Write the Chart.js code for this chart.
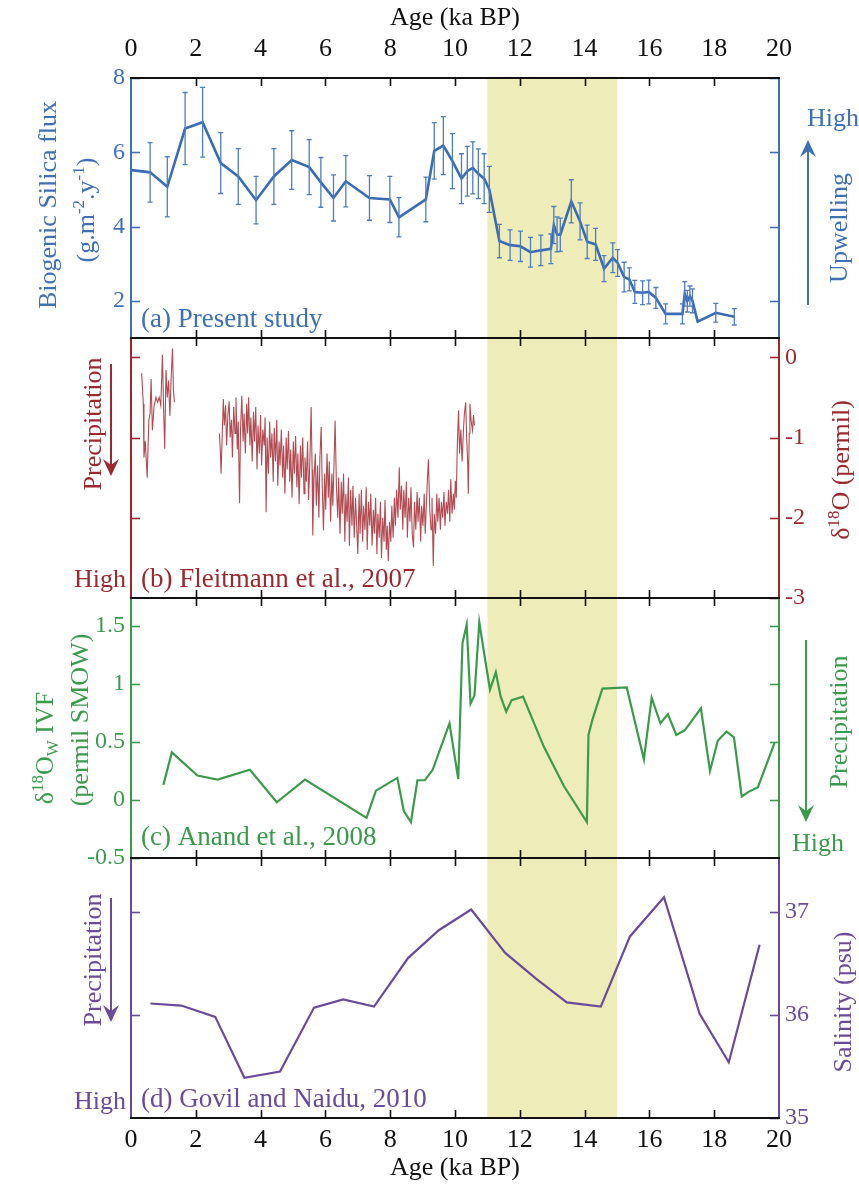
<!DOCTYPE html>
<html>
<head>
<meta charset="utf-8">
<script src="https://cdn.jsdelivr.net/npm/chart.js@4.4.0/dist/chart.umd.min.js"></script>
<style>
    html, body { margin: 0; padding: 0; background: #ffffff; }
    #wrap { position: relative; width: 859px; height: 1189px; overflow: hidden; }
    .panel { position: absolute; left: 0; width: 859px; }
</style>
</head>
<body>
<div id="wrap">
    <div class="panel" style="top:0px;height:352px"><canvas id="cA"></canvas></div>
    <div class="panel" style="top:324px;height:288px"><canvas id="cB"></canvas></div>
    <div class="panel" style="top:584px;height:288px"><canvas id="cC"></canvas></div>
    <div class="panel" style="top:844px;height:345px"><canvas id="cD"></canvas></div>
</div>
<script>
// === DADOS ===
const ageTicks = [0, 2, 4, 6, 8, 10, 12, 14, 16, 18, 20];
const bandStart = 11, bandEnd = 15;

// (a) Present study - biogenic silica flux
const silicaAge = [0.02, 0.59, 1.12, 1.67, 2.21, 2.77, 3.31, 3.86, 4.41, 4.96, 5.5, 5.86, 6.25, 6.63, 7.36, 7.99, 8.27, 9.1, 9.36, 9.64,
    9.92, 10.2, 10.38, 10.55, 10.72, 10.9, 11.06, 11.37, 11.7, 12.02, 12.33, 12.65, 12.96, 13.05, 13.15, 13.25, 13.59, 13.86, 14.08, 14.34,
    14.6, 14.87, 15.02, 15.22, 15.38, 15.55, 15.79, 15.98, 16.2, 16.5, 17.02, 17.09, 17.17, 17.25, 17.33, 17.49, 18.05, 18.62];
const silicaFlux = [5.52, 5.46, 5.07, 6.64, 6.81, 5.71, 5.35, 4.71, 5.35, 5.79, 5.6, 5.19, 4.77, 5.22, 4.77, 4.73, 4.25, 4.73, 6.04, 6.18,
    5.76, 5.29, 5.49, 5.58, 5.42, 5.29, 5.0, 3.61, 3.5, 3.47, 3.31, 3.36, 3.4, 4.04, 3.79, 3.78, 4.68, 4.14, 3.59, 3.52,
    2.87, 3.16, 3.02, 2.64, 2.58, 2.24, 2.22, 2.24, 2.08, 1.65, 1.65, 2.19, 1.99, 2.13, 2.0, 1.44, 1.68, 1.57];
const silicaErr = [0, 0.8, 0.81, 0.97, 0.94, 0.82, 0.75, 0.64, 0.75, 0.79, 0.74, 0.67, 0.62, 0.69, 0.6, 0.62, 0.53, 0.6, 0.76, 0.78,
    0.74, 0.67, 0.67, 0.7, 0.67, 0.67, 0.62, 0.45, 0.41, 0.41, 0.4, 0.41, 0.4, 0.5, 0.47, 0.45, 0.58, 0.5, 0.45, 0.43,
    0.35, 0.4, 0.36, 0.4, 0.31, 0.31, 0.32, 0.32, 0.28, 0.27, 0.27, 0.33, 0.29, 0.27, 0.32, 0, 0.25, 0.22];
const silicaTicks = [2, 4, 6, 8];

// (b) Fleitmann et al., 2007 - d18O (dois trechos)
const fleitAge1 = [0.33, 0.38, 0.40, 0.44, 0.50, 0.55, 0.59, 0.62, 0.66, 0.71, 0.77, 0.82, 0.87, 0.92, 0.97, 1.01, 1.04, 1.08, 1.12, 1.16,
    1.20, 1.24, 1.28, 1.31, 1.34];
const fleitD18O1 = [-0.20, -0.58, -1.25, -1.04, -1.50, -0.79, -0.70, -0.27, -0.91, -0.62, -0.50, -0.56, -0.50, -0.60, 0.03, -0.70, -1.14, -0.16, -0.50, -0.29,
    -0.73, -0.25, 0.11, -0.41, -0.56];
const fleitAge2 = [
    2.73, 2.76, 2.78, 2.81, 2.85, 2.88, 2.92, 2.95, 2.99, 3.03,
    3.06, 3.10, 3.13, 3.17, 3.21, 3.24, 3.28, 3.31, 3.35, 3.38,
    3.42, 3.46, 3.49, 3.53, 3.57, 3.60, 3.63, 3.67, 3.70, 3.74,
    3.78, 3.81, 3.85, 3.89, 3.92, 3.96, 4.00, 4.03, 4.07, 4.11,
    4.14, 4.17, 4.20, 4.24, 4.28, 4.31, 4.35, 4.39, 4.42, 4.46,
    4.50, 4.53, 4.57, 4.60, 4.64, 4.68, 4.71, 4.75, 4.79, 4.82,
    4.86, 4.90, 4.93, 4.97, 5.01, 5.04, 5.08, 5.12, 5.15, 5.19,
    5.23, 5.26, 5.30, 5.34, 5.37, 5.41, 5.45, 5.48, 5.52, 5.56,
    5.59, 5.61, 5.65, 5.69, 5.72, 5.76, 5.80, 5.83, 5.87, 5.90,
    5.94, 5.98, 6.01, 6.05, 6.09, 6.12, 6.16, 6.20, 6.23, 6.27,
    6.30, 6.34, 6.38, 6.41, 6.45, 6.49, 6.52, 6.56, 6.60, 6.63,
    6.67, 6.71, 6.74, 6.78, 6.82, 6.85, 6.89, 6.93, 6.96, 7.00,
    7.04, 7.07, 7.11, 7.15, 7.18, 7.22, 7.26, 7.29, 7.33, 7.37,
    7.40, 7.44, 7.48, 7.51, 7.55, 7.59, 7.62, 7.66, 7.70, 7.73,
    7.77, 7.81, 7.84, 7.88, 7.91, 7.94, 7.98, 8.02, 8.05, 8.09,
    8.13, 8.16, 8.20, 8.24, 8.28, 8.31, 8.35, 8.39, 8.42, 8.46,
    8.50, 8.53, 8.57, 8.61, 8.64, 8.68, 8.72, 8.75, 8.79, 8.83,
    8.86, 8.90, 8.94, 8.97, 9.01, 9.05, 9.08, 9.12, 9.15, 9.18,
    9.22, 9.26, 9.29, 9.33, 9.36, 9.40, 9.44, 9.47, 9.51, 9.55,
    9.58, 9.62, 9.66, 9.69, 9.73, 9.77, 9.80, 9.84, 9.87, 9.91,
    9.95, 9.98, 10.01, 10.04, 10.07, 10.11, 10.14, 10.18, 10.22, 10.26,
    10.29, 10.33, 10.36, 10.39, 10.41, 10.44, 10.46, 10.50, 10.54, 10.57,
    10.60];
const fleitD18O2 = [
    -0.95, -1.20, -1.45, -1.05, -0.52, -0.85, -0.60, -1.10, -0.72, -0.55,
    -1.00, -0.78, -1.25, -0.62, -0.95, -0.50, -1.15, -0.80, -1.82, -0.90,
    -0.48, -1.05, -0.70, -1.20, -0.58, -0.95, -0.50, -1.10, -0.75, -1.30,
    -0.68, -1.05, -0.62, -1.40, -0.85, -1.20, -0.72, -1.35, -0.90, -1.10,
    -0.75, -1.93, -1.00, -1.45, -0.80, -1.25, -0.95, -1.55, -0.88, -1.30,
    -0.78, -1.60, -1.05, -1.35, -0.90, -1.50, -1.10, -1.70, -1.00, -1.40,
    -0.92, -1.55, -1.15, -1.75, -1.05, -1.45, -0.98, -1.62, -1.20, -1.83,
    -1.10, -1.50, -1.00, -1.70, -1.25, -1.55, -1.05, -1.78, -1.30, -0.62,
    -1.40, -2.22, -1.50, -1.20, -1.85, -1.35, -2.00, -1.25, -0.87, -1.55,
    -2.16, -1.45, -1.90, -1.20, -1.75, -1.30, -2.05, -1.45, -1.85, -1.25,
    -0.79, -1.60, -2.00, -1.50, -2.20, -1.55, -1.95, -1.45, -2.30, -1.70,
    -2.05, -1.50, -2.35, -1.65, -2.10, -1.60, -2.25, -1.75, -2.05, -2.45,
    -1.70, -2.20, -1.65, -2.30, -1.85, -2.15, -1.62, -2.40, -1.80, -2.10,
    -1.70, -2.35, -1.90, -2.20, -1.75, -2.45, -1.95, -2.25, -1.80, -2.50,
    -2.00, -2.30, -1.78, -2.40, -2.10, -2.54, -2.05, -2.30, -1.85, -2.25,
    -1.75, -2.10, -1.65, -2.00, -1.37, -1.90, -1.60, -2.15, -1.65, -2.00,
    -1.55, -2.25, -1.75, -2.05, -1.62, -2.20, -2.37, -1.80, -2.15, -1.68,
    -2.05, -1.75, -2.30, -1.85, -2.10, -1.70, -2.20, -1.80, -1.50, -1.27,
    -1.90, -2.15, -1.75, -2.60, -1.95, -2.20, -1.70, -2.05, -1.75, -2.15,
    -1.80, -2.00, -1.68, -2.10, -1.80, -1.95, -1.65, -2.05, -1.52, -1.95,
    -1.70, -1.90, -1.54, -1.75, -1.10, -0.66, -1.20, -0.90, -1.30, -0.91,
    -0.70, -0.56, -1.00, -1.30, -1.70, -0.95, -0.58, -0.80, -0.91, -0.72,
    -0.85];
const fleitTicks = [-3, -2, -1, 0];

// (c) Anand et al., 2008 - d18Ow IVF
const anandAge = [1.0, 1.26, 2.05, 2.67, 3.67, 4.5, 5.37, 7.27, 7.56, 8.22, 8.42, 8.64, 8.84, 9.07, 9.31, 9.83, 10.1, 10.23, 10.36, 10.48,
    10.6, 10.75, 10.93, 11.08, 11.26, 11.41, 11.58, 11.75, 12.1, 12.74, 13.36, 14.07, 14.12, 14.24, 14.55, 15.3, 15.83, 16.07, 16.34, 16.57,
    16.83, 17.09, 17.59, 17.87, 18.11, 18.38, 18.61, 18.85, 19.06, 19.35, 19.86];
const anandD18Ow = [0.13, 0.41, 0.21, 0.175, 0.26, -0.02, 0.175, -0.155, 0.08, 0.19, -0.095, -0.19, 0.17, 0.17, 0.26, 0.66, 0.18, 1.35, 1.51, 0.83,
    0.9, 1.53, 1.21, 0.95, 1.1, 0.89, 0.76, 0.86, 0.89, 0.46, 0.12, -0.19, 0.56, 0.69, 0.96, 0.97, 0.35, 0.88, 0.66, 0.74,
    0.56, 0.6, 0.79, 0.25, 0.51, 0.59, 0.54, 0.03, 0.07, 0.11, 0.49];
const anandTicks = [-0.5, 0, 0.5, 1, 1.5];

// (d) Govil and Naidu, 2010 - salinidade
const govilAge = [0.6, 1.55, 2.6, 3.5, 4.6, 5.65, 6.55, 7.5, 8.55, 9.5, 10.5, 11.55, 12.5, 13.45, 14.5, 15.4, 16.45, 17.55, 18.45, 19.4];
const govilSalinity = [36.11, 36.09, 35.98, 35.39, 35.45, 36.07, 36.15, 36.08, 36.55, 36.82, 37.02, 36.6, 36.35, 36.12, 36.08, 36.76, 37.14, 36.01, 35.54, 36.68];
const salinityTicks = [35, 36, 37];

// === ESTILO ===
const SERIF = "'Liberation Serif', 'Times New Roman', serif";
const FS = 26;      // títulos e rótulos
const FS_TICK = 24; // números dos eixos y
const BLUE = '#3f70b4', RED_TXT = '#9a2a30', RED_LINE = '#b24c52', GREEN = '#3c9a4c', PURPLE = '#6a4b9a';
const BAND = '#eeecb8';

const toXY = (xs, ys) => xs.map((x, i) => ({ x: x, y: ys[i] }));

// textos e setas de cada painel (coordenadas da página)
const panels = {
    cA: {
        top: 0, color: BLUE, errors: true,
        texts: [
            { segs: [['Biogenic Silica flux']], x: 47, y: 205, rot: true },
            { segs: [['(g.m'], ['-2', 'sup'], ['.y'], ['-1', 'sup'], [')']], x: 85, y: 210, rot: true },
            { segs: [['(a) Present study']], x: 141, y: 318, left: true, size: 27 },
            { segs: [['High']], x: 833, y: 117 },
            { segs: [['Upwelling']], x: 838, y: 228, rot: true }
        ],
        arrows: [{ x: 808, tail: 305, head: 140 }]
    },
    cB: {
        top: 324, color: RED_TXT,
        texts: [
            { segs: [['δ'], ['18', 'sup'], ['O (permil)']], x: 840, y: 470, rot: true },
            { segs: [['Precipitation']], x: 92, y: 424, rot: true },
            { segs: [['High']], x: 100, y: 578 },
            { segs: [['(b) Fleitmann et al., 2007']], x: 141, y: 578, left: true, size: 27 }
        ],
        arrows: [{ x: 111, tail: 364, head: 476 }]
    },
    cC: {
        top: 584, color: GREEN,
        texts: [
            { segs: [['δ'], ['18', 'sup'], ['O'], ['W', 'sub'], [' IVF']], x: 44, y: 748, rot: true },
            { segs: [['(permil SMOW)']], x: 79, y: 720, rot: true },
            { segs: [['Precipitation']], x: 838, y: 722, rot: true },
            { segs: [['High']], x: 818, y: 842 },
            { segs: [['(c) Anand et al., 2008']], x: 141, y: 836, left: true, size: 27 }
        ],
        arrows: [{ x: 806, tail: 640, head: 822 }]
    },
    cD: {
        top: 844, color: PURPLE,
        texts: [
            { segs: [['Precipitation']], x: 92, y: 960, rot: true },
            { segs: [['High']], x: 100, y: 1100 },
            { segs: [['(d) Govil and Naidu, 2010']], x: 141, y: 1098, left: true, size: 27 },
            { segs: [['Salinity (psu)']], x: 842, y: 1002, rot: true }
        ],
        arrows: [{ x: 111, tail: 898, head: 1022 }]
    }
};

function segFont(s, size) {
    const small = s[1] === 'sup' || s[1] === 'sub';
    return (small ? Math.round(size * 0.66) : size) + 'px ' + SERIF;
}

function drawRich(ctx, t, color) {
    const size = t.size || FS;
    ctx.save();
    ctx.translate(t.x, t.y);
    if (t.rot) ctx.rotate(-Math.PI / 2);
    ctx.fillStyle = color;
    ctx.textAlign = 'left';
    ctx.textBaseline = 'alphabetic';
    let w = 0;
    t.segs.forEach(s => { ctx.font = segFont(s, size); w += ctx.measureText(s[0]).width; });
    let cx = t.left ? 0 : -w / 2;
    const base = size * 0.33;
    t.segs.forEach(s => {
        ctx.font = segFont(s, size);
        const dy = s[1] === 'sup' ? -size * 0.38 : (s[1] === 'sub' ? size * 0.22 : 0);
        ctx.fillText(s[0], cx, base + dy);
        cx += ctx.measureText(s[0]).width;
    });
    ctx.restore();
}

function drawArrow(ctx, a, color) {
    const dir = Math.sign(a.head - a.tail);
    ctx.save();
    ctx.strokeStyle = color;
    ctx.fillStyle = color;
    ctx.lineWidth = 2;
    ctx.beginPath();
    ctx.moveTo(a.x, a.tail);
    ctx.lineTo(a.x, a.head - dir * 8);
    ctx.stroke();
    ctx.beginPath();
    ctx.moveTo(a.x, a.head);
    ctx.lineTo(a.x - 8, a.head - dir * 17);
    ctx.lineTo(a.x, a.head - dir * 11);
    ctx.lineTo(a.x + 8, a.head - dir * 17);
    ctx.closePath();
    ctx.fill();
    ctx.restore();
}

// faixa amarela, barras de erro, ticks internos e textos
const decor = {
    id: 'decor',
    beforeDatasetsDraw(chart) {
        const { ctx, chartArea: ca, scales: { x } } = chart;
        const x0 = x.getPixelForValue(bandStart), x1 = x.getPixelForValue(bandEnd);
        ctx.save();
        ctx.fillStyle = BAND;
        ctx.fillRect(x0, ca.top, x1 - x0, ca.bottom - ca.top);
        ctx.restore();
    },
    afterDatasetsDraw(chart) {
        const spec = panels[chart.canvas.id];
        if (!spec.errors) return;
        const { ctx, chartArea: ca, scales: { x, yL } } = chart;
        ctx.save();
        ctx.beginPath();
        ctx.rect(ca.left, ca.top, ca.right - ca.left, ca.bottom - ca.top);
        ctx.clip();
        ctx.strokeStyle = '#4d7dbf';
        ctx.lineWidth = 1.3;
        silicaAge.forEach((age, i) => {
            if (!silicaErr[i]) return;
            const px = x.getPixelForValue(age);
            const y0 = yL.getPixelForValue(silicaFlux[i] - silicaErr[i]);
            const y1 = yL.getPixelForValue(silicaFlux[i] + silicaErr[i]);
            ctx.beginPath();
            ctx.moveTo(px, y0); ctx.lineTo(px, y1);
            ctx.moveTo(px - 2.5, y0); ctx.lineTo(px + 2.5, y0);
            ctx.moveTo(px - 2.5, y1); ctx.lineTo(px + 2.5, y1);
            ctx.stroke();
        });
        ctx.restore();
    },
    afterDraw(chart) {
        const spec = panels[chart.canvas.id];
        const { ctx, chartArea: ca, scales: { x, yL, yR } } = chart;
        ctx.save();
        // ticks do eixo x apontando para dentro (topo e base)
        ctx.strokeStyle = '#111111';
        ctx.lineWidth = 1.6;
        ageTicks.forEach(v => {
            if (v === 0 || v === 20) return;
            const px = Math.round(x.getPixelForValue(v)) + 0.5;
            ctx.beginPath();
            ctx.moveTo(px, ca.top); ctx.lineTo(px, ca.top + 8);
            ctx.moveTo(px, ca.bottom); ctx.lineTo(px, ca.bottom - 8);
            ctx.stroke();
        });
        // ticks y apontando para dentro
        ctx.strokeStyle = spec.color;
        yL.ticks.forEach(t => {
            const py = Math.round(yL.getPixelForValue(t.value)) + 0.5;
            ctx.beginPath(); ctx.moveTo(ca.left, py); ctx.lineTo(ca.left + 9, py); ctx.stroke();
        });
        yR.ticks.forEach(t => {
            const py = Math.round(yR.getPixelForValue(t.value)) + 0.5;
            ctx.beginPath(); ctx.moveTo(ca.right, py); ctx.lineTo(ca.right - 9, py); ctx.stroke();
        });
        // linhas pretas de separação dos painéis
        ctx.strokeStyle = '#111111';
        ctx.lineWidth = 2;
        ctx.beginPath();
        ctx.moveTo(ca.left - 1, ca.top); ctx.lineTo(ca.right + 1, ca.top);
        ctx.moveTo(ca.left - 1, ca.bottom); ctx.lineTo(ca.right + 1, ca.bottom);
        ctx.stroke();
        ctx.restore();

        ctx.save();
        ctx.translate(0, -spec.top);
        spec.texts.forEach(t => drawRich(ctx, t, spec.color));
        spec.arrows.forEach(a => drawArrow(ctx, a, spec.color));
        ctx.restore();
    }
};

function yAxis(pos, min, max, ticks, color, showLabels) {
    return {
        type: 'linear', position: pos, min: min, max: max,
        afterBuildTicks: s => { s.ticks = ticks.map(v => ({ value: v })); },
        afterFit: s => { s.width = pos === 'left' ? 131 : 80; s.paddingTop = 0; s.paddingBottom = 0; },
        ticks: { display: showLabels, color: color, padding: 6, font: { family: SERIF, size: FS_TICK }, callback: v => String(v) },
        grid: { display: false, drawTicks: false },
        border: { display: true, color: color, width: 2 }
    };
}

function xAxis(pos, height, showLabels) {
    return {
        type: 'linear', position: pos, min: 0, max: 20,
        afterBuildTicks: s => { s.ticks = ageTicks.map(v => ({ value: v })); },
        afterFit: s => { s.height = height; s.paddingLeft = 0; s.paddingRight = 0; },
        ticks: { display: showLabels, color: '#111111', padding: pos === 'top' ? 13 : 7, maxRotation: 0, autoSkip: false,
            font: { family: SERIF, size: FS } },
        grid: { display: false, drawTicks: false },
        border: { display: false },
        title: { display: showLabels, text: 'Age (ka BP)', color: '#111111', font: { family: SERIF, size: FS },
            padding: pos === 'top' ? { top: 3, bottom: 0 } : { top: 0, bottom: 5 } }
    };
}

function makePanel(id, datasets, scales, padTop, padBottom) {
    return new Chart(document.getElementById(id), {
        type: 'line',
        data: { datasets: datasets },
        options: {
            responsive: true,
            maintainAspectRatio: false,
            animation: false,
            layout: { autoPadding: false, padding: { left: 0, right: 0, top: padTop, bottom: padBottom } },
            plugins: { legend: { display: false }, tooltip: { enabled: false } },
            elements: { point: { radius: 0 }, line: { tension: 0 } },
            scales: scales
        },
        plugins: [decor]
    });
}

makePanel('cA', [{
    data: toXY(silicaAge, silicaFlux), yAxisID: 'yL', borderColor: '#3a6cb3', borderWidth: 2.6
}], {
    x: xAxis('top', 78, true),
    yL: yAxis('left', 1, 8, silicaTicks, BLUE, true),
    yR: yAxis('right', 1, 8, silicaTicks, BLUE, false)
}, 0, 14);

makePanel('cB', [
    { data: toXY(fleitAge1, fleitD18O1), yAxisID: 'yR', borderColor: RED_LINE, borderWidth: 1.1 },
    { data: toXY(fleitAge2, fleitD18O2), yAxisID: 'yR', borderColor: RED_LINE, borderWidth: 1.1 }
], {
    x: xAxis('bottom', 0, false),
    yL: yAxis('left', -3, 0.24, [-2, -1, 0], RED_TXT, false),
    yR: yAxis('right', -3, 0.24, fleitTicks, RED_TXT, true)
}, 14, 14);

makePanel('cC', [{
    data: toXY(anandAge, anandD18Ow), yAxisID: 'yL', borderColor: GREEN, borderWidth: 2.2
}], {
    x: xAxis('bottom', 0, false),
    yL: yAxis('left', -0.5, 1.74, anandTicks, GREEN, true),
    yR: yAxis('right', -0.5, 1.74, [0, 0.5, 1, 1.5], GREEN, false)
}, 14, 14);

makePanel('cD', [{
    data: toXY(govilAge, govilSalinity), yAxisID: 'yR', borderColor: PURPLE, borderWidth: 2.2
}], {
    x: xAxis('bottom', 71, true),
    yL: yAxis('left', 35, 37.52, [36, 37], PURPLE, false),
    yR: yAxis('right', 35, 37.52, salinityTicks, PURPLE, true)
}, 14, 0);
</script>
</body>
</html>
